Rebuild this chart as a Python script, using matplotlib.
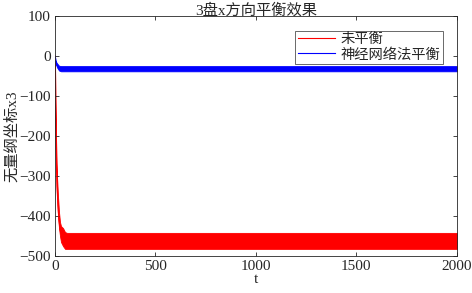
import numpy as np
import matplotlib
matplotlib.use("Agg")
import matplotlib.pyplot as plt

plt.rcParams['font.family'] = ['Liberation Serif', 'Noto Sans CJK SC']

# envelope of the oscillating responses
red_t = [0, 2, 5, 10, 15, 20, 25, 30, 40, 50, 60, 2000]
red_hi = [0, -100, -200, -300, -350, -390, -415, -425, -430, -440, -442, -442]
red_lo = [0, -150, -260, -350, -400, -430, -450, -465, -475, -482, -482, -482]

blue_t = [0, 3, 10, 20, 30, 2000]
blue_hi = [0, -12, -18, -24, -25, -25]
blue_lo = [0, -18, -28, -36, -38, -38]

labels = ['未平衡', '神经网络法平衡']
xticks = [0, 500, 1000, 1500, 2000]
yticks = [-500, -400, -300, -200, -100, 0, 100]

txt = '#262626'
fs = 11

fig = plt.figure(figsize=(4.72, 2.93), dpi=100)
ax = fig.add_axes([0.1165, 0.126, 0.8515, 0.819])

ax.fill_between(red_t, red_lo, red_hi, color='red', lw=0.6, edgecolor='red')
ax.plot(red_t, (np.array(red_hi) + np.array(red_lo)) / 2, color='red', lw=0.8, label=labels[0])
ax.fill_between(blue_t, blue_lo, blue_hi, color='blue', lw=0.6, edgecolor='blue')
ax.plot(blue_t, (np.array(blue_hi) + np.array(blue_lo)) / 2, color='blue', lw=0.8, label=labels[1])

ax.set_xlim(0, 2000)
ax.set_ylim(-500, 100)
ax.set_xticks(xticks)
ax.set_yticks(yticks)
ax.tick_params(direction='in', top=True, right=True, labelsize=fs, colors=txt,
               length=3, width=0.6, pad=3)
for s in ax.spines.values():
    s.set_color('#262626')
    s.set_linewidth(0.6)

ax.set_title('3盘x方向平衡效果', fontsize=fs, color=txt, pad=1)
ax.set_xlabel('t', fontsize=fs, color=txt, labelpad=0)
ax.set_ylabel('无量纲坐标x3', fontsize=fs, color=txt, labelpad=0)

leg = ax.legend(loc='upper right', bbox_to_anchor=(0.966, 0.94), fontsize=10.3,
                frameon=True, fancybox=False, edgecolor='#262626', handlelength=2.6,
                borderpad=0.2, labelspacing=0.1, handletextpad=0.4, borderaxespad=0)
leg.get_frame().set_linewidth(0.6)
for t in leg.get_texts():
    t.set_color(txt)

fig.savefig('out.png', dpi=100)
